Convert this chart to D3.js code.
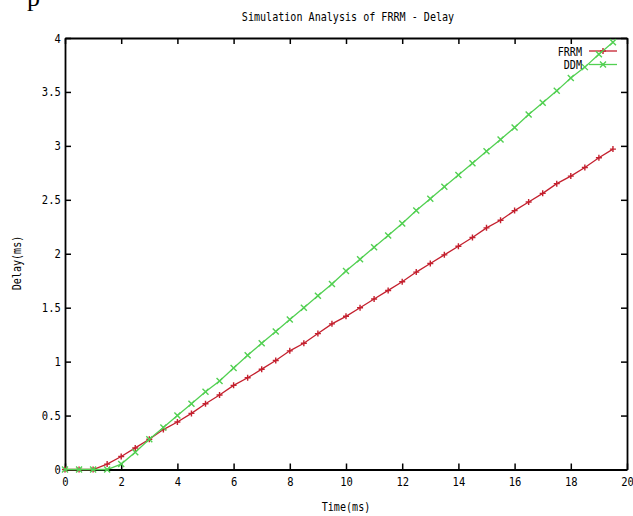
<!DOCTYPE html>
<html>
<head>
<meta charset="utf-8">
<script src="https://cdn.jsdelivr.net/npm/d3@7"></script>
<style>
    body { margin: 0; background: #fff; }
    svg { display: block; }
    text { font-family: "DejaVu Sans Mono", monospace; font-size: 12px; fill: #000; }
</style>
</head>
<body>
<svg width="633" height="516"></svg>
<script>
// time (ms), sampled every 0.5
var times = [0, 0.5, 1, 1.5, 2, 2.5, 3, 3.5, 4, 4.5, 5, 5.5, 6, 6.5, 7, 7.5, 8, 8.5, 9, 9.5,
    10, 10.5, 11, 11.5, 12, 12.5, 13, 13.5, 14, 14.5, 15, 15.5, 16, 16.5, 17, 17.5, 18, 18.5, 19, 19.5];

var frrmDelay = [0, 0, 0, 0.05, 0.12, 0.2, 0.28, 0.37, 0.44, 0.52, 0.61, 0.69, 0.78, 0.85, 0.93, 1.01, 1.1, 1.17, 1.26, 1.35,
    1.42, 1.5, 1.58, 1.66, 1.74, 1.83, 1.91, 1.99, 2.07, 2.15, 2.24, 2.31, 2.4, 2.48, 2.56, 2.65, 2.72, 2.8, 2.89, 2.97];

var ddmDelay = [0, 0, 0, 0, 0.05, 0.16, 0.28, 0.39, 0.5, 0.61, 0.72, 0.82, 0.94, 1.06, 1.17, 1.28, 1.39, 1.5, 1.61, 1.72,
    1.84, 1.95, 2.06, 2.17, 2.28, 2.4, 2.51, 2.62, 2.73, 2.84, 2.95, 3.06, 3.17, 3.29, 3.4, 3.51, 3.63, 3.73, 3.85, 3.96];

var seriesNames = ["FRRM", "DDM"];

var xTicks = [0, 2, 4, 6, 8, 10, 12, 14, 16, 18, 20];
var yTicks = [0, 0.5, 1, 1.5, 2, 2.5, 3, 3.5, 4];

window.onload = main;

function main() {
    var svg = d3.select("svg");
    var plotLeft = 65, plotRight = 627, plotTop = 38, plotBottom = 469.5;
    var sx = 0.84; // narrow the glyphs like the bitmap font

    var x = d3.scaleLinear().domain([0, 20]).range([plotLeft, plotRight]);
    var y = d3.scaleLinear().domain([0, 4]).range([plotBottom, plotTop]);

    // stray letter from the page above the figure
    svg.append("text")
        .attr("x", 27).attr("y", 6)
        .style("font-family", "Liberation Serif")
        .style("font-size", "26px")
        .text("p");

    // axes / frame (gnuplot style: inward ticks mirrored on all sides)
    var gx = svg.append("g").attr("transform", "translate(0," + plotBottom + ")")
        .call(d3.axisBottom(x).tickValues(xTicks).tickSizeInner(-6).tickSizeOuter(0).tickPadding(8).tickFormat(d3.format("d")));
    svg.append("g").attr("transform", "translate(0," + plotTop + ")")
        .call(d3.axisTop(x).tickValues(xTicks).tickSizeInner(-6).tickSizeOuter(0).tickFormat(""));
    var gy = svg.append("g").attr("transform", "translate(" + plotLeft + ",0)")
        .call(d3.axisLeft(y).tickValues(yTicks).tickSizeInner(-6).tickSizeOuter(0).tickPadding(5).tickFormat(d3.format("~g")));
    svg.append("g").attr("transform", "translate(" + plotRight + ",0)")
        .call(d3.axisRight(y).tickValues(yTicks).tickSizeInner(-6).tickSizeOuter(0).tickFormat(""));

    svg.selectAll(".domain").attr("stroke", "#000").attr("stroke-width", 1.8);
    svg.selectAll(".tick line").attr("stroke", "#000").attr("stroke-width", 1.5);
    svg.selectAll(".tick text")
        .style("font-family", "DejaVu Sans Mono")
        .style("font-size", "12.5px")
        .attr("fill", "#111");
    gx.selectAll(".tick text").attr("transform", "scale(" + sx + ",1)");
    gy.selectAll(".tick text").attr("transform", "scale(" + sx + ",1)");

    // titles
    svg.append("text")
        .attr("transform", "translate(348,21) scale(" + sx + ",1)")
        .attr("text-anchor", "middle")
        .text("Simulation Analysis of FRRM - Delay");
    svg.append("text")
        .attr("transform", "translate(346,511) scale(" + sx + ",1)")
        .attr("text-anchor", "middle")
        .text("Time(ms)");
    svg.append("text")
        .attr("transform", "translate(21,263) rotate(-90) scale(" + sx + ",1)")
        .attr("text-anchor", "middle")
        .text("Delay(ms)");

    // series
    var series = [
        { name: seriesNames[0], values: frrmDelay, color: "#c4202e", marker: "plus" },
        { name: seriesNames[1], values: ddmDelay, color: "#52d052", marker: "cross" }
    ];

    var line = d3.line()
        .x(function (d, i) { return x(times[i]); })
        .y(function (d) { return y(d); });

    function markerPath(type, cx, cy) {
        var r = 3;
        if (type === "plus")
            return "M" + (cx - r) + "," + cy + "H" + (cx + r) + "M" + cx + "," + (cy - r) + "V" + (cy + r);
        return "M" + (cx - r) + "," + (cy - r) + "L" + (cx + r) + "," + (cy + r) +
            "M" + (cx - r) + "," + (cy + r) + "L" + (cx + r) + "," + (cy - r);
    }

    series.forEach(function (s, k) {
        svg.append("path")
            .datum(s.values)
            .attr("fill", "none")
            .attr("stroke", s.color)
            .attr("stroke-width", 1.3)
            .attr("d", line);

        svg.append("g").selectAll("path")
            .data(s.values)
            .enter()
            .append("path")
            .attr("fill", "none")
            .attr("stroke", s.color)
            .attr("stroke-width", 1.4)
            .attr("d", function (d, i) { return markerPath(s.marker, x(times[i]), y(d)); });

        // legend entry
        var ly = 51 + k * 13.5;
        svg.append("text")
            .attr("transform", "translate(582," + (ly + 4.5) + ") scale(" + sx + ",1)")
            .attr("text-anchor", "end")
            .text(s.name);
        svg.append("line")
            .attr("x1", 589).attr("x2", 617)
            .attr("y1", ly).attr("y2", ly)
            .attr("stroke", s.color)
            .attr("stroke-width", 1.3);
        svg.append("path")
            .attr("fill", "none")
            .attr("stroke", s.color)
            .attr("stroke-width", 1.4)
            .attr("d", markerPath(s.marker, 603, ly));
    });
}
</script>
</body>
</html>
